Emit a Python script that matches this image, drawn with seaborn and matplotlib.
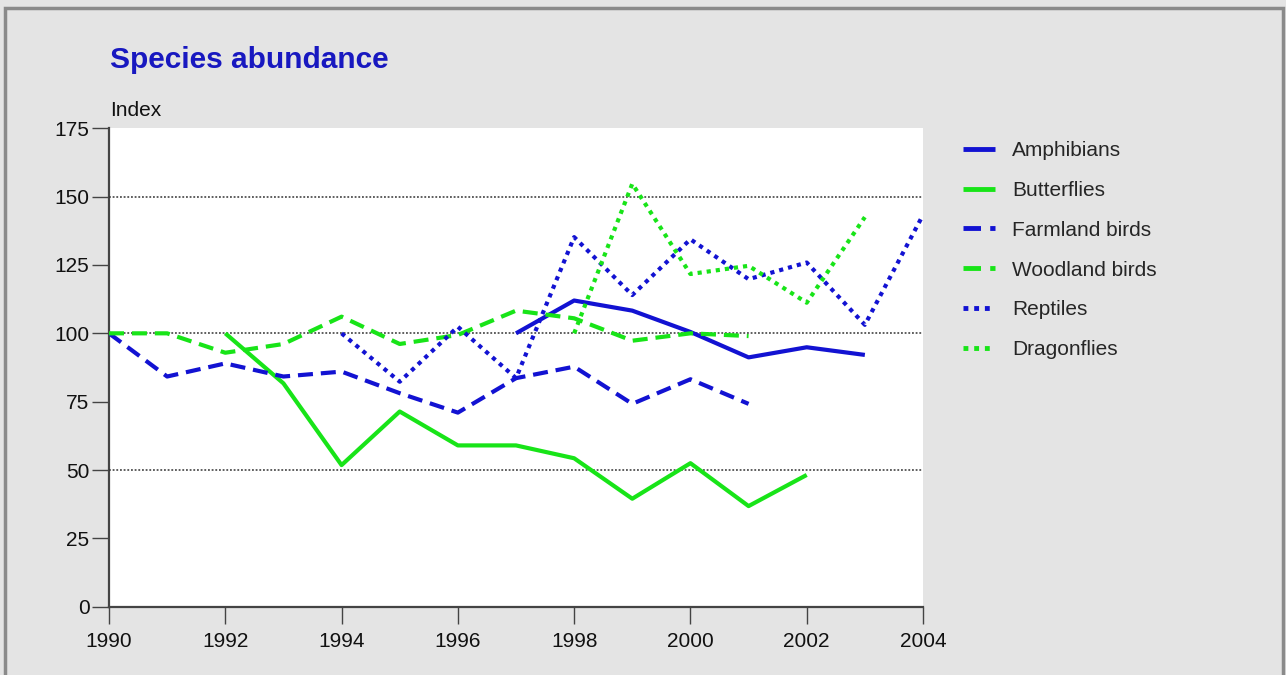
import numpy as np
import pandas as pd
import matplotlib
matplotlib.use("Agg")
import matplotlib.pyplot as plt
from matplotlib.patches import Rectangle
import seaborn as sns

# ---- data ----
amph_years = [1997, 1998, 1999, 2000, 2001, 2002, 2003]
amph_vals = [100, 112, 108.3, 100.5, 91.2, 94.9, 92.1]

butt_years = [1992, 1993, 1994, 1995, 1996, 1997, 1998, 1999, 2000, 2001, 2002]
butt_vals = [100, 81.7, 51.8, 71.4, 59.0, 59.0, 54.3, 39.5, 52.5, 36.8, 48.2]

farm_years = [1990, 1991, 1992, 1993, 1994, 1995, 1996, 1997, 1998, 1999, 2000, 2001]
farm_vals = [100, 84.2, 89.0, 84.2, 86.0, 78.1, 71.0, 83.6, 87.8, 74.2, 83.2, 74.2]

wood_years = [1990, 1991, 1992, 1993, 1994, 1995, 1996, 1997, 1998, 1999, 2000, 2001]
wood_vals = [100, 100, 92.9, 96.1, 106.1, 96.1, 99.4, 108.3, 105.5, 97.3, 100, 99.0]

rept_years = [1994, 1995, 1996, 1997, 1998, 1999, 2000, 2001, 2002, 2003, 2004]
rept_vals = [100, 82.3, 102.4, 83.6, 135.2, 114.0, 134.4, 119.8, 125.9, 103.1, 143.3]

drag_years = [1998, 1999, 2000, 2001, 2002, 2003]
drag_vals = [100, 154.7, 121.7, 124.7, 111.2, 142.5]

series_names = ["Amphibians", "Butterflies", "Farmland birds",
                "Woodland birds", "Reptiles", "Dragonflies"]
x_ticks = [1990, 1992, 1994, 1996, 1998, 2000, 2002, 2004]
y_ticks = [0, 25, 50, 75, 100, 125, 150, 175]
grid_vals = [50, 100, 150]

frames = []
for name, yrs, vals in zip(series_names,
                           [amph_years, butt_years, farm_years, wood_years, rept_years, drag_years],
                           [amph_vals, butt_vals, farm_vals, wood_vals, rept_vals, drag_vals]):
    frames.append(pd.DataFrame({"year": yrs, "value": vals, "series": name}))
df = pd.concat(frames, ignore_index=True)

BLUE = "#1212d2"
GREEN = "#18e418"
palette = {"Amphibians": BLUE, "Butterflies": GREEN, "Farmland birds": BLUE,
           "Woodland birds": GREEN, "Reptiles": BLUE, "Dragonflies": GREEN}
dashes = {"Amphibians": "", "Butterflies": "", "Farmland birds": (3.6, 1.9),
          "Woodland birds": (3.6, 1.9), "Reptiles": (1, 1.2), "Dragonflies": (1, 1.2)}

sns.set_style("white")
plt.rcParams["font.family"] = ["Liberation Sans", "DejaVu Sans"]

BG = "#e4e4e4"
fig = plt.figure(figsize=(12.86, 6.75), dpi=100, facecolor=BG)
ax = fig.add_axes([109 / 1286, 1 - 606.7 / 675, (923 - 109) / 1286, (606.7 - 128.3) / 675])
ax.set_facecolor("white")

# dotted gridlines at 50/100/150
for g in grid_vals:
    ax.axhline(g, color="#333333", lw=1.1, ls=(0, (1.2, 1.2)), zorder=1)

sns.lineplot(data=df, x="year", y="value", hue="series", style="series",
             hue_order=series_names, style_order=series_names,
             palette=palette, dashes=dashes, linewidth=3.0, ax=ax,
             legend=True, estimator=None, sort=False)
for ln in ax.get_lines():
    ln.set_dash_capstyle("butt")
    ln.set_solid_capstyle("butt")
    ln.set_zorder(3)

ax.set_xlim(1990, 2004)
ax.set_ylim(0, 175)
ax.set_xticks(x_ticks)
ax.set_yticks(y_ticks)
ax.set_xlabel("")
ax.set_ylabel("")
for s in ["top", "right"]:
    ax.spines[s].set_visible(False)
for s in ["left", "bottom"]:
    ax.spines[s].set_color("#444444")
    ax.spines[s].set_linewidth(1.6)
ax.tick_params(axis="y", direction="out", length=12, width=1.0, color="#444444",
               pad=2, labelsize=15, labelcolor="#111111", left=True)
ax.tick_params(axis="x", direction="out", length=12, width=1.0, color="#444444",
               pad=6, labelsize=15, labelcolor="#111111", bottom=True)

# legend
handles, labels = ax.get_legend_handles_labels()
ax.get_legend().remove()
leg = fig.legend(handles, labels, loc="upper left",
                 bbox_to_anchor=(963 / 1286, 1 - 141 / 675), frameon=False,
                 fontsize=15, handlelength=1.55, handletextpad=0.8,
                 labelspacing=1.0, borderpad=0, borderaxespad=0)
for h in leg.get_lines():
    h.set_linewidth(3.5)

# title and axis label
fig.text(110 / 1286, 1 - 60 / 675, "Species abundance", color="#1818c0",
         fontsize=21.5, fontweight="bold", va="center", ha="left")
fig.text(110 / 1286, 1 - 110 / 675, "Index", color="#111111",
         fontsize=15, va="center", ha="left")

# outer frame
fig.patches.append(Rectangle((5 / 1286, -0.05), (1283 - 5) / 1286, 1.05 - 8 / 675,
                             transform=fig.transFigure, fill=False,
                             edgecolor="#8a8a8a", linewidth=2.5))

fig.savefig("out.png", dpi=100, facecolor=BG)
